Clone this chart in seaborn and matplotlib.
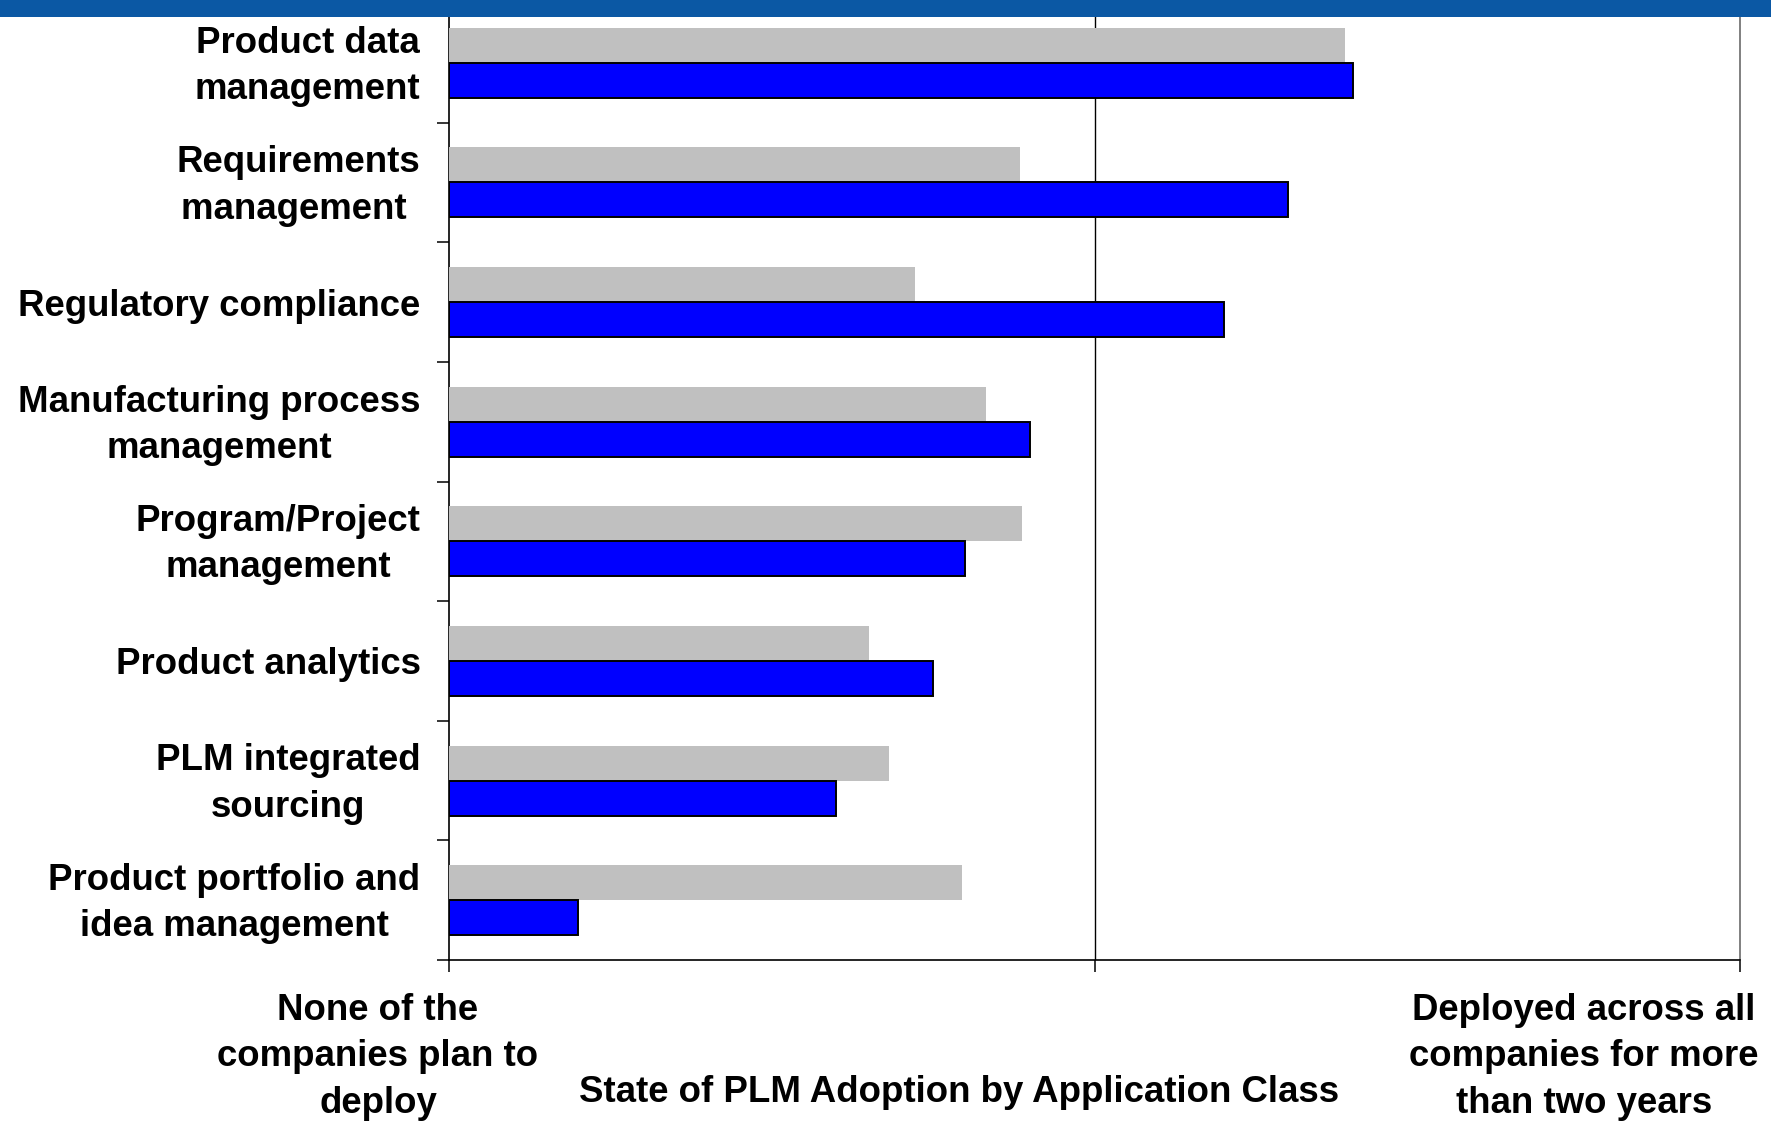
import numpy as np
import pandas as pd
import seaborn as sns
import matplotlib.pyplot as plt
from matplotlib.patches import Rectangle
from matplotlib.transforms import ScaledTranslation

# data (0 = none plan to deploy, 100 = deployed everywhere)
categories = ["Product data\nmanagement",
              "Requirements\nmanagement ",
              "Regulatory compliance",
              "Manufacturing process\nmanagement",
              "Program/Project\nmanagement",
              "Product analytics",
              "PLM integrated\nsourcing",
              "Product portfolio and\nidea management"]
gray_values = [69.4, 44.2, 36.1, 41.6, 44.4, 32.5, 34.1, 39.7]
blue_values = [70.0, 65.0, 60.0, 45.0, 40.0, 37.5, 30.0, 10.0]
series_names = ["gray", "blue"]

left_label = "None of the\ncompanies plan to\ndeploy"
right_label = "Deployed across all\ncompanies for more\nthan two years"
x_title = "State of PLM Adoption by Application Class"

df = pd.DataFrame({
    "category": categories * 2,
    "value": gray_values + blue_values,
    "series": [series_names[0]] * len(categories) + [series_names[1]] * len(categories),
})

sns.set_style("white")
plt.rcParams["font.family"] = ["Liberation Sans", "DejaVu Sans"]
plt.rcParams["font.weight"] = "bold"
plt.rcParams["text.color"] = "black"
plt.rcParams["ytick.color"] = "black"
plt.rcParams["xtick.color"] = "black"

W, H = 1771, 1121
fig = plt.figure(figsize=(W / 100, H / 100), dpi=100)

# header banner
fig.patches.append(Rectangle((0, 1 - 17 / H), 1, 17 / H, transform=fig.transFigure,
                             facecolor="#0b58a4", edgecolor="none", zorder=0))

ax = fig.add_axes([449 / W, 1 - 960 / H, (1740 - 449) / W, (960 - 3) / H])
ax.set_facecolor("none")

sns.barplot(data=df, y="category", x="value", hue="series", hue_order=series_names,
            order=categories, orient="h", palette=["#c0c0c0", "#0000ff"],
            saturation=1, width=0.585, legend=False, ax=ax, zorder=3)

for bar in ax.containers[0]:
    bar.set_edgecolor("none")
for bar in ax.containers[1]:
    bar.set_edgecolor("black")
    bar.set_linewidth(1.4)

ax.set_xlim(0, 100)
ax.set_ylim(len(categories) - 0.5, -0.5)
ax.set_xlabel("")
ax.set_ylabel("")

ax.set_xticks([0, 50, 100])
ax.set_xticklabels([])
ax.tick_params(axis="x", which="major", direction="out", length=8.6, width=1.1,
               color="black", bottom=True)
ax.axvline(50, color="black", lw=1.0, zorder=1)

ax.set_yticks(np.arange(len(categories)))
ax.set_yticklabels(categories, fontsize=26.4, fontweight="bold", color="black",
                   multialignment="center", linespacing=1.42)
ax.set_yticks(np.arange(len(categories) + 1) - 0.5, minor=True)
ax.tick_params(axis="y", which="major", length=0, pad=20.5)
ax.tick_params(axis="y", which="minor", direction="out", length=8.6, width=1.1,
               color="black", left=True)

# two-line labels: centre the block, nudged down a little like the original
shift = ScaledTranslation(0, -3.5 / 100, fig.dpi_scale_trans)
for lab in ax.get_yticklabels():
    if "\n" in lab.get_text():
        lab.set_va("center")
        lab.set_transform(lab.get_transform() + shift)

for side in ["left", "bottom"]:
    ax.spines[side].set_color("black")
    ax.spines[side].set_linewidth(1.2)
for side in ["top", "right"]:
    ax.spines[side].set_visible(True)
    ax.spines[side].set_color("#808080")
    ax.spines[side].set_linewidth(1.4)

fig.text(378 / W, 1 - 1057 / H, left_label, ha="center", va="center",
         fontsize=26.4, fontweight="bold", linespacing=1.42)
fig.text(1584 / W, 1 - 1057 / H, right_label, ha="center", va="center",
         fontsize=26.4, fontweight="bold", linespacing=1.42)
fig.text(959 / W, 1 - 1092 / H, x_title, ha="center", va="center",
         fontsize=26.4, fontweight="bold")

fig.savefig("out.png", dpi=100)
